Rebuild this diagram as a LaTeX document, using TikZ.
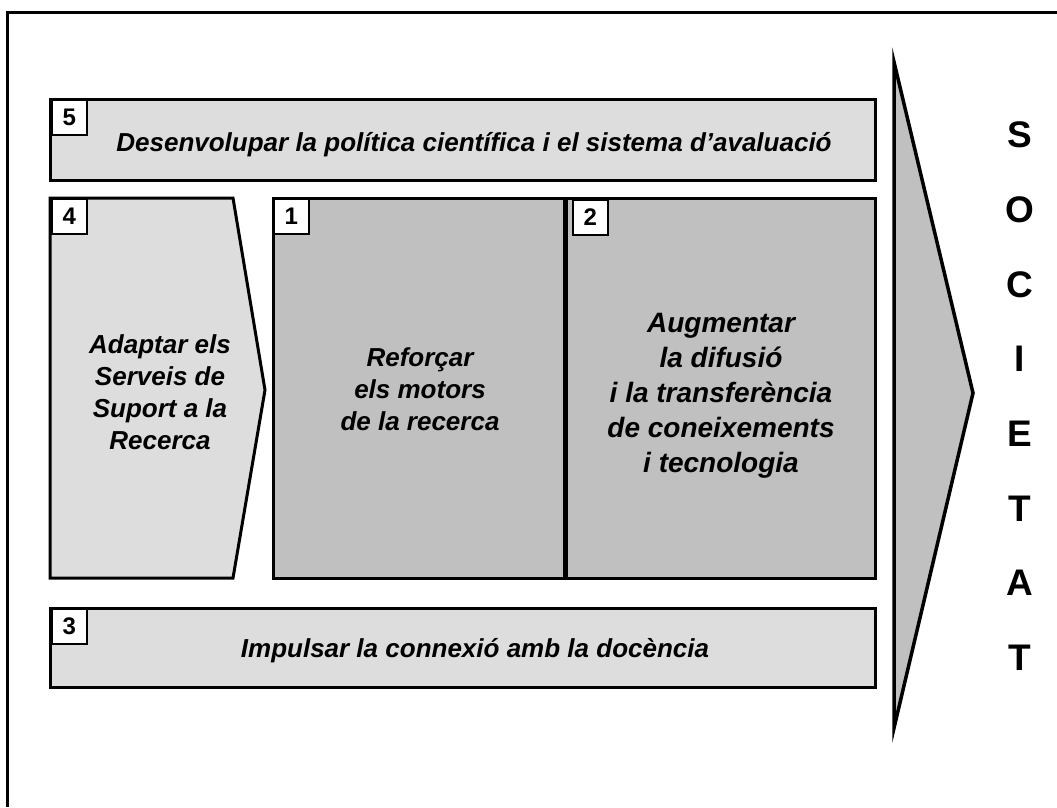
\documentclass[tikz,border=0pt]{standalone}
\usepackage{fontspec}
\setmainfont{Liberation Sans}
\usepackage{tikz}
\definecolor{boxlight}{HTML}{DDDDDD}
\definecolor{boxdark}{HTML}{C0C0C0}
\newcommand{\txtfont}{\bfseries\itshape\fontsize{26}{32}\selectfont}
\newcommand{\bigtxtfont}{\bfseries\itshape\fontsize{28}{35}\selectfont}
\newcommand{\numfont}{\bfseries\fontsize{24}{28}\selectfont}
\newcommand{\letfont}{\bfseries\fontsize{37}{42}\selectfont}

\begin{document}
\begin{tikzpicture}
                \tikzset{x=1pt, y=-1pt}
                \tikzstyle{lbox}=[rectangle, draw, line width=3pt, fill=boxlight, inner sep=0pt]
                \tikzstyle{dbox}=[lbox, fill=boxdark]
                \tikzstyle{num}=[rectangle, draw, line width=1.5pt, fill=white, anchor=north west, minimum width=35pt, minimum height=35pt, inner sep=0pt, font=\numfont]
                \tikzstyle{txt}=[align=center, font=\txtfont]
                \tikzstyle{letter}=[font=\letfont]

                \useasboundingbox (0,0) rectangle (1057,807);
                \draw[line width=3pt] (7,807) -- (7,12) -- (1057,12);

                \draw[dbox, line width=3.5pt] (894,62) -- (973,393) -- (894,728) -- cycle;
                \draw[lbox] (50,198) -- (233,198) -- (265,390) -- (233,578) -- (50,578) -- cycle;

                \draw (462.5, 139.5) node[lbox, minimum width=825pt, minimum height=81pt]  (b5) {};
                \draw (418.5, 388.0) node[dbox, minimum width=291pt, minimum height=380pt] (b1) {};
                \draw (720.5, 388.0) node[dbox, minimum width=309pt, minimum height=380pt] (b2) {};
                \draw (462.5, 647.5) node[lbox, minimum width=825pt, minimum height=79pt]  (b3) {};

                \draw (51, 99)      node[num]   (n5)    {5};
                \draw (51, 198)     node[num]   (n4)    {4};
                \draw (273, 198)    node[num]   (n1)    {1};
                \draw (572, 199)    node[num]   (n2)    {2};
                \draw (51, 608)     node[num]   (n3)    {3};

                \draw (474, 145)    node[txt]   (t5)    {Desenvolupar la política científica i el sistema d’avaluació};
                \draw (160, 392)    node[txt]   (t4)    {Adaptar els\\Serveis de\\Suport a la\\Recerca};
                \draw (420, 389)    node[txt]   (t1)    {Reforçar\\els motors\\de la recerca};
                \draw (721, 396)    node[txt, font=\bigtxtfont] (t2) {Augmentar\\la difusió\\i la transferència\\de coneixements\\i tecnologia};
                \draw (475, 651)    node[txt]   (t3)    {Impulsar la connexió amb la docència};

                \draw (1020, 135.0) node[letter] (s0) {S};
                \draw (1020, 209.7) node[letter] (s1) {O};
                \draw (1020, 284.4) node[letter] (s2) {C};
                \draw (1020, 359.1) node[letter] (s3) {I};
                \draw (1020, 433.8) node[letter] (s4) {E};
                \draw (1020, 508.5) node[letter] (s5) {T};
                \draw (1020, 583.2) node[letter] (s6) {A};
                \draw (1020, 657.9) node[letter] (s7) {T};
            \end{tikzpicture}
\end{document}
